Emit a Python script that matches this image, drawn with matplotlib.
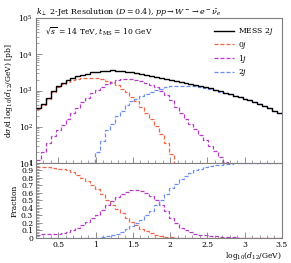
import numpy as np
import matplotlib
matplotlib.use("Agg")
import matplotlib.pyplot as plt
from matplotlib.ticker import MultipleLocator, LogLocator, NullFormatter, FixedLocator

plt.rcParams['font.family'] = ['DejaVu Serif']
plt.rcParams['mathtext.fontset'] = 'dejavuserif'

# bin edges of log10(d12/GeV)
x_lo, x_hi, n_bins = 0.2, 3.5, 50
edges = np.linspace(x_lo, x_hi, n_bins + 1)

mess_2j = [330, 420, 630, 1000, 1350, 1660, 1950, 2240, 2510, 2750,
           2950, 3160, 3310, 3470, 3550, 3590, 3550, 3470, 3310, 3160,
           3020, 2880, 2690, 2570, 2400, 2240, 2140, 2000, 1860, 1740,
           1620, 1550, 1450, 1350, 1260, 1150, 1050, 955, 870, 795,
           725, 660, 600, 540, 480, 425, 370, 325, 280, 240]

jet0 = [313, 398, 595, 935, 1250, 1520, 1760, 1960, 2110, 2200,
        2260, 2240, 2180, 2040, 1820, 1600, 1380, 1140, 900, 680,
        505, 355, 245, 165, 105, 62, 35, 18, 8, 3,
        1, 0.5, 0.3, 0.2, 0.1, 0.1, 0.1, 0.1, 0.1, 0.1,
        0.1, 0.1, 0.1, 0.1, 0.1, 0.1, 0.1, 0.1, 0.1, 0.1]

jet1 = [12, 20, 35, 55, 80, 115, 165, 235, 340, 480,
        640, 830, 1030, 1280, 1550, 1760, 1920, 2020, 2050, 2020,
        1930, 1800, 1620, 1440, 1220, 1000, 760, 540, 360, 240,
        165, 120, 85, 60, 42, 30, 22, 15, 11, 8,
        5, 3, 2, 1, 0.5, 0.3, 0.2, 0.1, 0.1, 0.1]

jet2 = [0.1, 0.1, 0.1, 0.1, 0.1, 0.2, 0.3, 0.5, 1, 2,
        4, 10, 20, 40, 80, 120, 195, 280, 390, 510,
        600, 705, 810, 925, 1055, 1140, 1260, 1320, 1340, 1360,
        1345, 1350, 1305, 1250, 1190, 1105, 1020, 935, 857, 787,
        720, 657, 598, 539, 479, 424, 369, 324, 279, 239]

c_black = 'black'
c_red = '#f0644a'
c_purple = '#b43cc4'
c_blue = '#6a8ff0'
gray = '#7f7f7f'

fig = plt.figure(figsize=(2.91, 2.63), dpi=100)
ax = fig.add_axes([0.1237, 0.380, 0.845, 0.5513])
axr = fig.add_axes([0.1237, 0.0951, 0.845, 0.2852], sharex=ax)

ds = (0, (3.2, 1.6))
ax.stairs(jet0, edges, color=c_red, lw=0.9, ls=ds, label='0$j$', baseline=None)
ax.stairs(jet1, edges, color=c_purple, lw=0.9, ls=ds, label='1$j$', baseline=None)
ax.stairs(jet2, edges, color=c_blue, lw=0.9, ls=ds, label='2$j$', baseline=None)
ax.stairs(mess_2j, edges, color=c_black, lw=1.0, label='MESS 2$j$', baseline=None, zorder=5)

tot = np.array(mess_2j, float)
for vals, c in [(jet0, c_red), (jet1, c_purple), (jet2, c_blue)]:
    axr.stairs(np.array(vals) / tot, edges, color=c, lw=0.9, ls=ds, baseline=None)

ax.set_yscale('log')
ax.set_ylim(10, 1e5)
ax.set_xlim(x_lo, x_hi)
axr.set_ylim(0, 1.0)

for a in (ax, axr):
    for s in a.spines.values():
        s.set_color(gray)
        s.set_linewidth(0.8)
    a.tick_params(which='both', direction='in', color=gray, labelsize=5.5, pad=2)
    a.tick_params(which='major', length=4, width=0.6)
    a.tick_params(which='minor', length=2, width=0.5)
    a.xaxis.set_major_locator(MultipleLocator(0.5))
    a.xaxis.set_minor_locator(MultipleLocator(0.1))

ax.tick_params(labelbottom=False)
ax.yaxis.set_major_locator(LogLocator(base=10, numticks=10))
ax.yaxis.set_minor_locator(LogLocator(base=10, subs=np.arange(2, 10), numticks=10))
ax.yaxis.set_minor_formatter(NullFormatter())

axr.yaxis.set_major_locator(MultipleLocator(0.1))
axr.yaxis.set_minor_locator(MultipleLocator(0.02))
axr.set_yticklabels([f'{v:g}' for v in np.round(axr.get_yticks(), 1)])
axr.xaxis.set_major_locator(FixedLocator([0.5, 1, 1.5, 2, 2.5, 3, 3.5]))
axr.set_xticklabels(['0.5', '1', '1.5', '2', '2.5', '3', '3.5'])
axr.set_ylim(0, 1.0)

ax.set_title(r'$k_\perp$ 2-Jet Resolution ($D = 0.4$), $pp \to W^- \to e^-\bar{\nu}_e$',
             fontsize=5.7, loc='left', pad=3, x=0.0)
ax.text(0.035, 0.905, r'$\sqrt{s}$ = 14 TeV, $t_{\rm MS}$ = 10 GeV', transform=ax.transAxes,
        fontsize=5.5, va='center', ha='left')
ax.set_ylabel(r'd$\sigma$/d log$_{10}$($d_{12}$/GeV) [pb]', fontsize=5.5, labelpad=2)
axr.set_ylabel('Fraction', fontsize=5.5, labelpad=2)
axr.set_xlabel(r'log$_{10}$($d_{12}$/GeV)', fontsize=5.5, loc='right', labelpad=1)

h, l = ax.get_legend_handles_labels()
order = [3, 0, 1, 2]
leg = ax.legend([h[i] for i in order], [l[i] for i in order], loc='upper right',
                frameon=False, fontsize=5.5, handlelength=2.6, handletextpad=0.6,
                labelspacing=0.3, borderaxespad=0.7)

fig.savefig('out.png', dpi=100)
